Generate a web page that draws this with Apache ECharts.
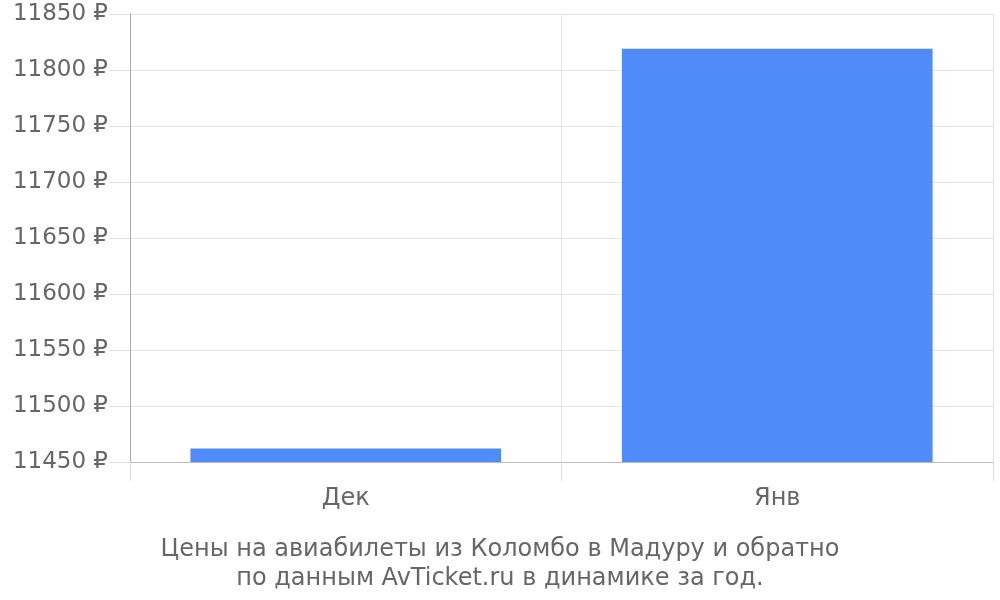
<!DOCTYPE html>
<html><head><meta charset="utf-8">
<script src="https://cdn.jsdelivr.net/npm/echarts@6/dist/echarts.min.js"></script>
<style>html,body{margin:0;padding:0;background:#fff}#c{width:1000px;height:600px}</style>
</head><body><div id="c"></div>
<script>
const categories = ['Дек', 'Янв'];
const prices = [11462, 11819];
const titleLines = ['Цены на авиабилеты из Коломбо в Мадуру и обратно', 'по данным AvTicket.ru в динамике за год.'];
const yMin = 11450, yMax = 11850, yStep = 50;

const chart = echarts.init(document.getElementById('c'));
chart.setOption({
  animation: false,
  textStyle: {fontFamily: 'DejaVu Sans'},
  title: {
    text: titleLines.join('\n'),
    left: 'center', top: 530,
    textStyle: {fontSize: 24, fontWeight: 'normal', color: '#666', lineHeight: 29, fontFamily: 'DejaVu Sans'}
  },
  grid: {left: 130, right: 7, top: 14, bottom: 138},
  xAxis: {
    type: 'category', data: categories,
    axisLine: {lineStyle: {color: '#bbb'}},
    axisTick: {show: true, length: 19, lineStyle: {color: '#ddd'}},
    splitLine: {show: true, lineStyle: {color: '#e3e3e3'}},
    axisLabel: {fontSize: 24, color: '#666', margin: 25}
  },
  yAxis: {
    type: 'value', min: yMin, max: yMax, interval: yStep,
    axisLine: {show: true, lineStyle: {color: '#aaa'}},
    axisTick: {show: true, length: 20, lineStyle: {color: '#ddd'}},
    splitLine: {show: true, lineStyle: {color: '#e3e3e3'}},
    axisLabel: {fontSize: 23, color: '#666', margin: 22, formatter: v => v + ' ₽'}
  },
  series: [{
    type: 'bar', data: prices, barWidth: '72%',
    itemStyle: {color: '#4f8bf9'}
  }]
});
</script></body></html>
